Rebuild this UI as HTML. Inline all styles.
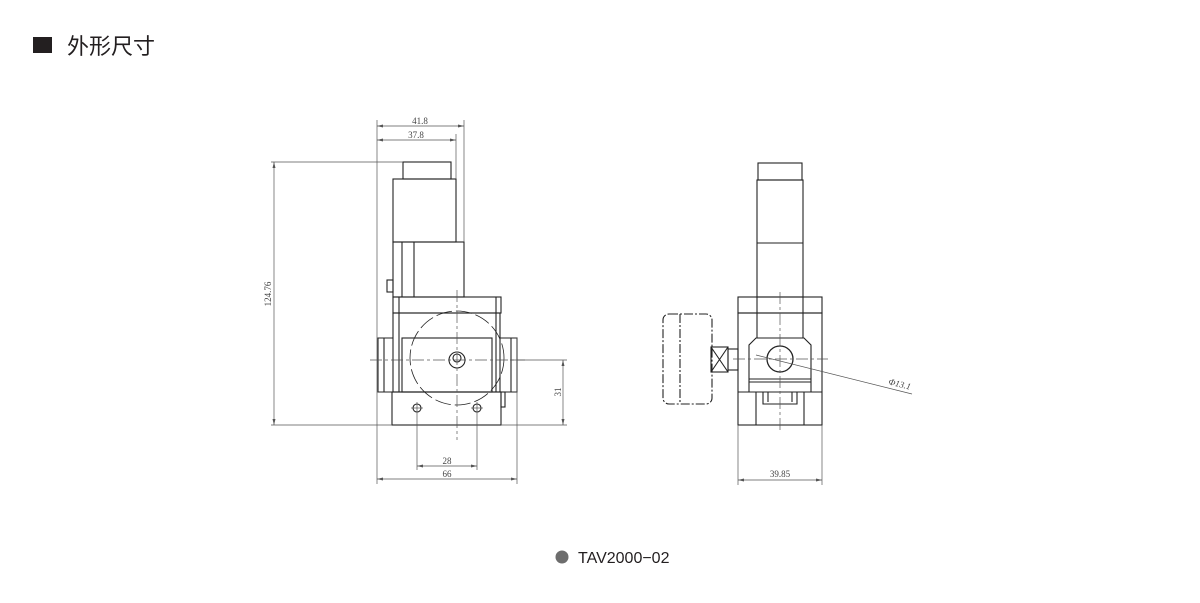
<!DOCTYPE html>
<html><head><meta charset="utf-8"><style>
html,body{margin:0;padding:0;background:#fff;width:1200px;height:603px;overflow:hidden}
svg{display:block}
</style></head><body>
<svg width="1200" height="603" viewBox="0 0 1200 603" xmlns="http://www.w3.org/2000/svg">
<rect x="33" y="37" width="19" height="16" fill="#231f20"/>
<text x="67" y="54" font-family="Liberation Sans, Noto Sans CJK SC, sans-serif" font-size="22" fill="#231f20">外形尺寸</text>
<circle cx="562" cy="557" r="6.5" fill="#6d6d6d"/>
<text x="578" y="563" font-family="Liberation Sans, sans-serif" font-size="16" fill="#231f20">TAV2000−02</text>

<g fill="none" stroke="#222" stroke-width="1.1">
<!-- LEFT VIEW -->
<rect x="403" y="162" width="48" height="17"/>
<rect x="393" y="179" width="63" height="63"/>
<rect x="393" y="242" width="71" height="55"/>
<line x1="402" y1="242" x2="402" y2="297"/><line x1="414" y1="242" x2="414" y2="297"/>
<rect x="387" y="280" width="6" height="12"/>
<rect x="393" y="297" width="108" height="16"/>
<line x1="399" y1="297" x2="399" y2="392"/><line x1="496" y1="297" x2="496" y2="392"/>
<rect x="393" y="313" width="107" height="79"/>
<rect x="402" y="338" width="90" height="54"/>
<path d="M393 338 H378 V392 H393"/><line x1="384" y1="338" x2="384" y2="392"/>
<path d="M500 338 H517 V392 H500"/><line x1="511" y1="338" x2="511" y2="392"/>
<rect x="392" y="392" width="109" height="33"/>
<rect x="501" y="392" width="4" height="15"/>
<circle cx="417" cy="408" r="4"/><circle cx="477" cy="408" r="4"/>
<circle cx="457" cy="360" r="8"/><circle cx="457" cy="358" r="4"/>
<circle cx="457" cy="358" r="47" stroke-dasharray="16,4" stroke-width="0.8"/>
<!-- RIGHT VIEW -->
<rect x="758" y="163" width="44" height="17"/>
<rect x="757" y="180" width="46" height="117"/>
<line x1="757" y1="243" x2="803" y2="243"/>
<rect x="738" y="297" width="84" height="16"/>
<rect x="738" y="313" width="84" height="112"/>
<line x1="757" y1="297" x2="757" y2="338"/><line x1="803" y1="297" x2="803" y2="338"/>
<line x1="738" y1="392" x2="822" y2="392"/>
<path d="M749 392 V345 L756 338 H804 L811 345 V392"/>
<line x1="749" y1="379" x2="811" y2="379"/><line x1="749" y1="382" x2="811" y2="382"/>
<circle cx="780" cy="359" r="13" stroke-width="1.3"/>
<path d="M763 392 V404 H797 V392"/><line x1="768" y1="392" x2="768" y2="402"/><line x1="792" y1="392" x2="792" y2="402"/>
<line x1="756" y1="392" x2="756" y2="425"/><line x1="804" y1="392" x2="804" y2="425"/>
<rect x="728" y="349" width="10" height="21"/>
<rect x="711" y="347" width="17" height="25"/>
<path d="M711 347 L728 372 M728 347 L711 372"/>
<rect x="663" y="314" width="49" height="90" rx="6" stroke-dasharray="9,2,2,2"/>
<line x1="680" y1="314" x2="680" y2="404" stroke-dasharray="9,2,2,2"/>
</g>

<g fill="none" stroke="#555" stroke-width="0.7">
<line x1="411" y1="408" x2="423" y2="408"/><line x1="471" y1="408" x2="483" y2="408"/>
<line x1="370" y1="360" x2="525" y2="360" stroke-dasharray="12,3,3,3"/>
<line x1="457" y1="290" x2="457" y2="440" stroke-dasharray="12,3,3,3"/>
<line x1="733" y1="359" x2="828" y2="359" stroke-dasharray="12,3,3,3"/>
<line x1="780" y1="292" x2="780" y2="433" stroke-dasharray="12,3,3,3"/>
<line x1="377" y1="120" x2="377" y2="484"/>
<line x1="464" y1="120" x2="464" y2="242"/>
<line x1="456" y1="134" x2="456" y2="179"/>
<line x1="517" y1="338" x2="517" y2="484"/>
<line x1="417" y1="402" x2="417" y2="470"/>
<line x1="477" y1="402" x2="477" y2="470"/>
<line x1="271" y1="162" x2="403" y2="162"/>
<line x1="271" y1="425" x2="392" y2="425"/>
<line x1="501" y1="425" x2="567" y2="425"/>
<line x1="510" y1="360" x2="567" y2="360"/>
<line x1="738" y1="425" x2="738" y2="485"/>
<line x1="822" y1="425" x2="822" y2="485"/>
<line x1="377" y1="126" x2="464" y2="126"/>
<line x1="377" y1="140" x2="456" y2="140"/>
<line x1="274" y1="162" x2="274" y2="425"/>
<line x1="563" y1="360" x2="563" y2="425"/>
<line x1="417" y1="466" x2="477" y2="466"/>
<line x1="377" y1="479" x2="517" y2="479"/>
<line x1="738" y1="480" x2="822" y2="480"/>
<line x1="756" y1="355" x2="912" y2="394"/>
</g>
<g fill="#555">
<path d="M377 126 l6 -1.5 v3z M464 126 l-6 -1.5 v3z M377 140 l6 -1.5 v3z M456 140 l-6 -1.5 v3z"/>
<path d="M274 162 l-1.5 6 h3z M274 425 l-1.5 -6 h3z M563 360 l-1.5 6 h3z M563 425 l-1.5 -6 h3z"/>
<path d="M417 466 l6 -1.5 v3z M477 466 l-6 -1.5 v3z M377 479 l6 -1.5 v3z M517 479 l-6 -1.5 v3z"/>
<path d="M738 480 l6 -1.5 v3z M822 480 l-6 -1.5 v3z"/>
</g>
<g font-family="Liberation Serif, serif" font-size="9" fill="#444" text-anchor="middle">
<text x="420" y="124">41.8</text>
<text x="416" y="138">37.8</text>
<text x="447" y="464">28</text>
<text x="447" y="477">66</text>
<text x="780" y="477">39.85</text>
<text transform="translate(271,294) rotate(-90)">124.76</text>
<text transform="translate(561,392) rotate(-90)">31</text>
<text transform="translate(899,387) rotate(14)" font-style="italic">Φ13.1</text>
</g>
</svg>
</body></html>
